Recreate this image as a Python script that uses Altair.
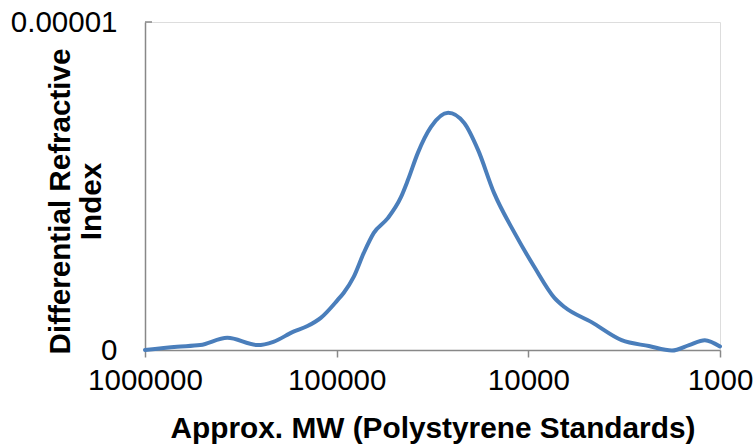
import altair as alt
import pandas as pd

# Approx. molecular weight (x) and differential refractive index (y)
mw = [1000000, 680000, 515000, 372000, 259000, 214000, 168000, 142000, 121000,
      99000, 92000, 81500, 72200, 64000, 54100, 46200, 42500, 37700, 32200,
      26200, 21600, 18300, 15100, 11800, 9300, 7310, 6480, 4680, 3260, 2350,
      1780, 1450, 1200, 1000]
dri = [0, 1.0e-7, 1.5e-7, 3.7e-7, 1.5e-7, 2.5e-7, 5.6e-7, 7.3e-7, 9.8e-7,
       1.52e-6, 1.74e-6, 2.23e-6, 2.96e-6, 3.57e-6, 4.02e-6, 4.66e-6, 5.18e-6,
       6.01e-6, 6.80e-6, 7.23e-6, 6.92e-6, 6.10e-6, 4.79e-6, 3.57e-6, 2.53e-6,
       1.59e-6, 1.31e-6, 8.5e-7, 3.0e-7, 1.2e-7, -1.5e-8, 1.5e-7, 3.0e-7, 1.07e-7]

x_ticks = [1000000, 100000, 10000, 1000]
y_ticks = [0, 0.00001]

df = pd.DataFrame({"mw": mw, "dri": dri, "idx": list(range(len(mw)))})

FONT = "Liberation Sans"

x_scale = alt.Scale(type="log", domain=[1000, 1000000], reverse=True, nice=False)
y_scale = alt.Scale(domain=[0, 0.00001], nice=False, zero=False)

line = alt.Chart(df).mark_line(
    color="#4A7EBB", strokeWidth=4, interpolate="monotone", strokeCap="round"
).encode(
    x=alt.X("mw:Q", scale=x_scale,
            axis=alt.Axis(values=x_ticks, format="d", grid=False,
                          title="Approx. MW (Polystyrene Standards)",
                          titleFont=FONT, titleFontSize=29.8, titleFontWeight="bold",
                          titleColor="#000000", titleBaseline="alphabetic", titleY=87,
                          labelFont=FONT, labelFontSize=29.5, labelColor="#000000",
                          labelPadding=9, tickSize=7, tickColor="#888888",
                          tickWidth=1.5, domainColor="#888888", domainWidth=1.5,
                          labelOverlap=False, labelFlush=False)),
    y=alt.Y("dri:Q", scale=y_scale,
            axis=alt.Axis(values=y_ticks, grid=False,
                          labelExpr="datum.value == 0 ? '0' : '0.00001'",
                          title=["Differential Refractive", "Index"],
                          titleFont=FONT, titleFontSize=29.6, titleFontWeight="bold",
                          titleColor="#000000", titleLineHeight=31,
                          titleAlign="center", titleBaseline="middle",
                          titleX=-85, titleY=179, titleAngle=-90,
                          labelFont=FONT, labelFontSize=29.5, labelColor="#000000",
                          labelPadding=28, tickSize=0,
                          domainColor="#888888", domainWidth=1.5)),
    order=alt.Order("idx:Q"),
)

top_tick = alt.Chart(pd.DataFrame({"v": [y_ticks[1]]})).mark_rule(
    color="#888888", strokeWidth=1.5
).encode(
    y=alt.Y("v:Q", scale=y_scale),
    x=alt.value(0),
    x2=alt.value(7),
)

chart = alt.layer(line, top_tick).properties(
    width=575, height=328,
    autosize=alt.AutoSizeParams(type="none"),
    padding={"left": 145, "top": 22, "right": 33, "bottom": 94},
).configure_view(stroke=None).configure(background="white")

chart.save("out.html", embed_options={"renderer": "svg", "actions": False})
